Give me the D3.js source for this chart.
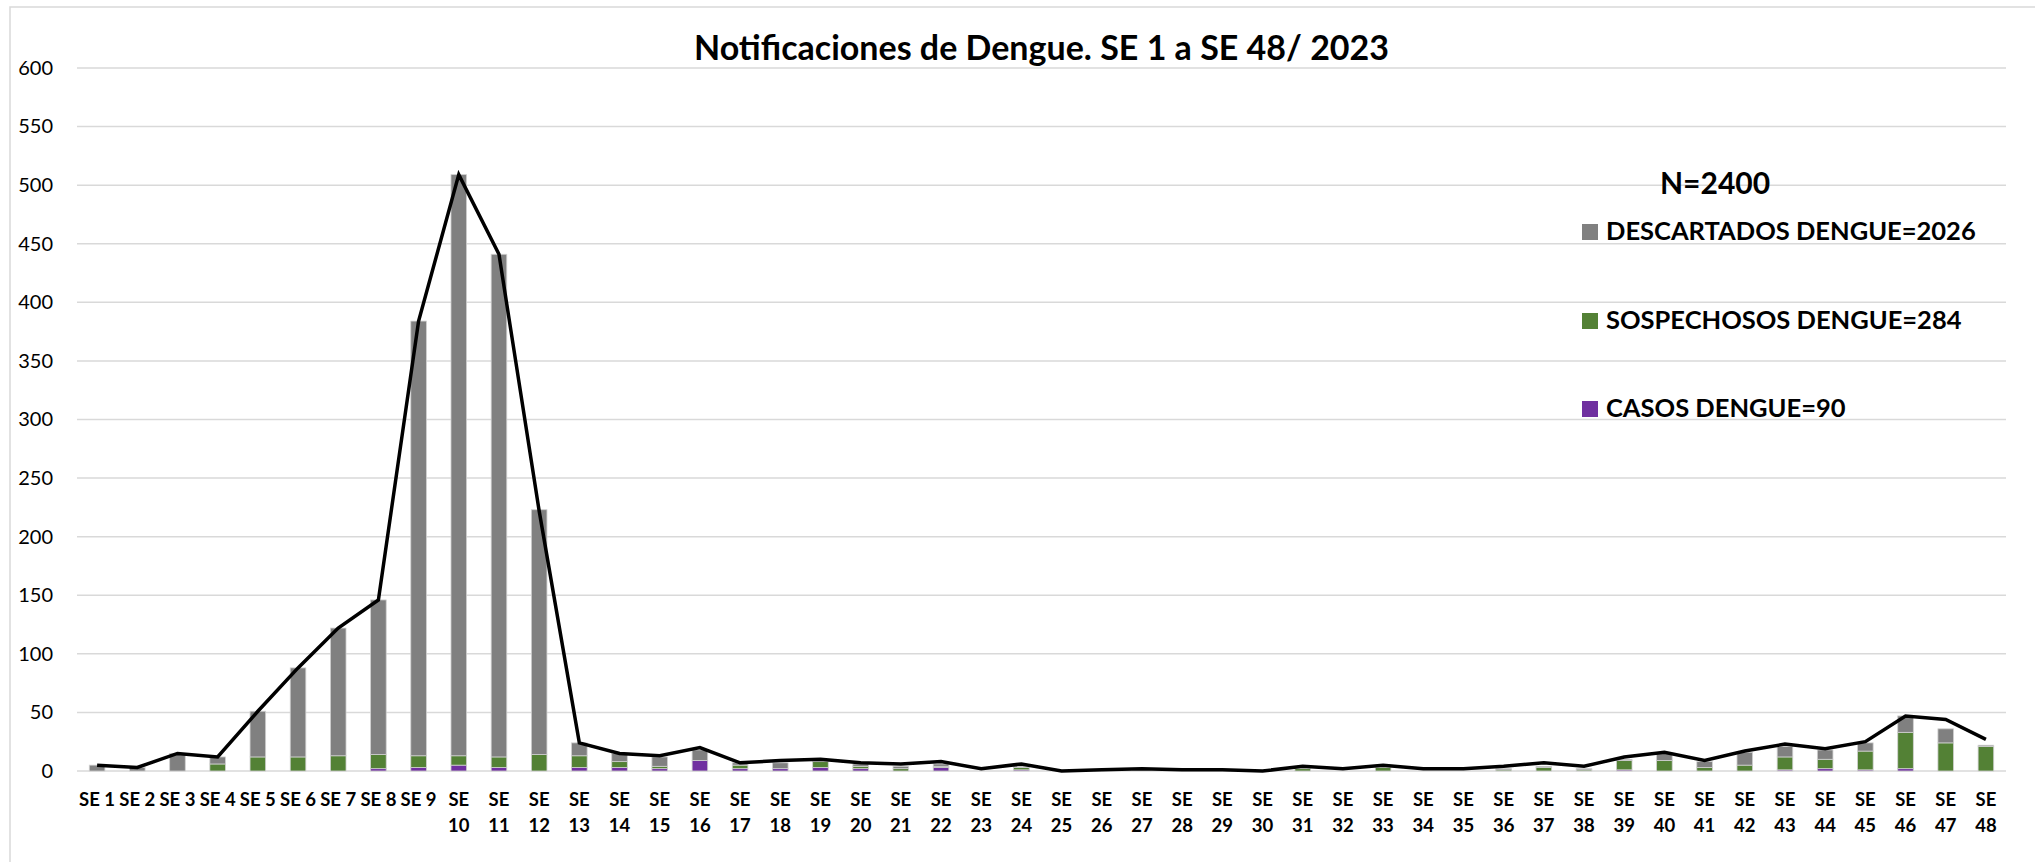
<!DOCTYPE html>
<html>
<head>
<meta charset="utf-8">
<script src="https://cdn.jsdelivr.net/npm/d3@7"></script>
<style>
  body { margin: 0; background: #fff; }
  svg { display: block; font-family: Lato, "Open Sans", sans-serif; }
</style>
</head>
<body>
<svg id="chart"></svg>
<script>
// semanas epidemiologicas
const weeks = d3.range(1, 49).map(d => `SE ${d}`);

// por semana
const casos =        [0,0,0,0,0,0,0,2,3,5,3,0,3,3,2,9,2,2,3,2,0,3,0,1,0,0,0,0,0,0,0,0,0,0,0,0,0,0,1,0,0,0,1,2,1,2,0,0];
const sospechosos =  [0,0,0,6,12,12,13,12,10,8,9,14,10,5,2,0,3,0,5,2,2,1,0,2,0,0,0,0,0,0,2,0,3,0,0,1,3,1,8,9,3,5,11,8,16,31,24,21];
const descartados =  [5,3,15,6,39,76,109,132,371,496,429,209,11,7,8,9,2,5,1,2,2,2,0,1,0,0,0,0,0,0,0,0,0,0,0,1,1,1,1,6,5,11,9,8,7,14,12,1];
const totales =      [5,3,15,12,51,88,122,146,384,509,441,222,24,15,13,20,7,9,10,7,6,8,2,6,0,1,2,1,1,0,4,2,5,2,2,4,7,4,12,16,9,17,23,19,25,47,44,27];

const yTicks = d3.range(0, 601, 50);

const series = [
  { key: "descartados", label: "DESCARTADOS DENGUE=2026", color: "#808080" },
  { key: "sospechosos", label: "SOSPECHOSOS DENGUE=284", color: "#538135" },
  { key: "casos", label: "CASOS DENGUE=90", color: "#7030a0" }
];

const WIDTH = 2035;
const HEIGHT = 862;
const MARGIN = { left: 77, right: 29, top: 68, bottom: 91 };

const svg = d3.select("#chart")
  .attr("width", WIDTH)
  .attr("height", HEIGHT);

svg.append("rect")
  .attr("x", 10).attr("y", 7)
  .attr("width", WIDTH + 20).attr("height", HEIGHT + 20)
  .attr("fill", "#fff")
  .attr("stroke", "#d9d9d9")
  .attr("stroke-width", 1.5);

const rows = weeks.map((w, i) => ({
  week: w,
  casos: casos[i],
  sospechosos: sospechosos[i],
  descartados: descartados[i]
}));

const x = d3.scaleBand()
  .domain(weeks)
  .range([MARGIN.left, WIDTH - MARGIN.right])
  .paddingInner(0.612)
  .paddingOuter(0.306);

const y = d3.scaleLinear()
  .domain([0, 600])
  .range([HEIGHT - MARGIN.bottom, MARGIN.top]);

// grid
svg.append("g")
  .selectAll("line")
  .data(yTicks)
  .enter()
  .append("line")
  .attr("x1", MARGIN.left)
  .attr("x2", WIDTH - MARGIN.right)
  .attr("y1", d => y(d))
  .attr("y2", d => y(d))
  .attr("stroke", "#d9d9d9")
  .attr("stroke-width", 1.5);

// eje y
const yAxis = svg.append("g")
  .attr("transform", `translate(${MARGIN.left},0)`)
  .call(d3.axisLeft(y).tickValues(yTicks).tickSize(0).tickPadding(24));
yAxis.select(".domain").remove();
yAxis.selectAll("text")
  .attr("font-size", 20)
  .attr("font-family", "Lato, sans-serif")
  .attr("fill", "#000");

// barras apiladas: casos abajo, sospechosos, descartados arriba
const stack = d3.stack().keys(["casos", "sospechosos", "descartados"]);
const stacked = stack(rows);
const colorOf = key => series.find(s => s.key === key).color;

svg.append("g")
  .selectAll("g")
  .data(stacked)
  .enter()
  .append("g")
  .attr("fill", d => colorOf(d.key))
  .selectAll("rect")
  .data(d => d)
  .enter()
  .append("rect")
  .attr("x", d => x(d.data.week))
  .attr("width", x.bandwidth())
  .attr("y", d => y(d[1]))
  .attr("height", d => y(d[0]) - y(d[1]))
  .attr("stroke", d => (d[1] - d[0]) > 0 ? "#d0d0d0" : "none")
  .attr("stroke-width", 0.8);

// linea de total
const line = d3.line()
  .x((d, i) => x(weeks[i]) + x.bandwidth() / 2)
  .y(d => y(d));

svg.append("path")
  .datum(totales)
  .attr("d", line)
  .attr("fill", "none")
  .attr("stroke", "#000")
  .attr("stroke-width", 3.5)
  .attr("stroke-linejoin", "miter");

// eje x
const xAxis = svg.append("g")
  .attr("transform", `translate(0,${y(0)})`)
  .call(d3.axisBottom(x).tickSize(0).tickPadding(0));
xAxis.select(".domain").remove();
xAxis.selectAll("text")
  .attr("font-size", 18.5)
  .attr("font-weight", "bold")
  .attr("font-family", "Lato, sans-serif")
  .attr("fill", "#000")
  .attr("dy", null)
  .attr("y", 0)
  .each(function(d) {
    const t = d3.select(this);
    const num = +d.split(" ")[1];
    t.text(null);
    if (num < 10) {
      t.append("tspan").attr("x", 0).attr("y", 35).text(d);
    } else {
      t.append("tspan").attr("x", 0).attr("y", 35).text("SE");
      t.append("tspan").attr("x", 0).attr("y", 61).text(num);
    }
  });

// titulo
svg.append("text")
  .attr("x", (MARGIN.left + WIDTH - MARGIN.right) / 2)
  .attr("y", 60)
  .attr("text-anchor", "middle")
  .attr("font-size", 34)
  .attr("font-weight", "bold")
  .text("Notificaciones de Dengue. SE 1 a SE 48/ 2023");

// leyenda
const legend = svg.append("g");
legend.append("text")
  .attr("x", 1660)
  .attr("y", 194)
  .attr("font-size", 30)
  .attr("font-weight", "bold")
  .text("N=2400");

const legendY = [240, 329, 417];
series.forEach((s, i) => {
  legend.append("rect")
    .attr("x", 1582)
    .attr("y", legendY[i] - 16)
    .attr("width", 16)
    .attr("height", 16)
    .attr("fill", s.color);
  legend.append("text")
    .attr("x", 1606)
    .attr("y", legendY[i])
    .attr("font-size", 25.5)
    .attr("font-weight", "bold")
    .text(s.label);
});
</script>
</body>
</html>
